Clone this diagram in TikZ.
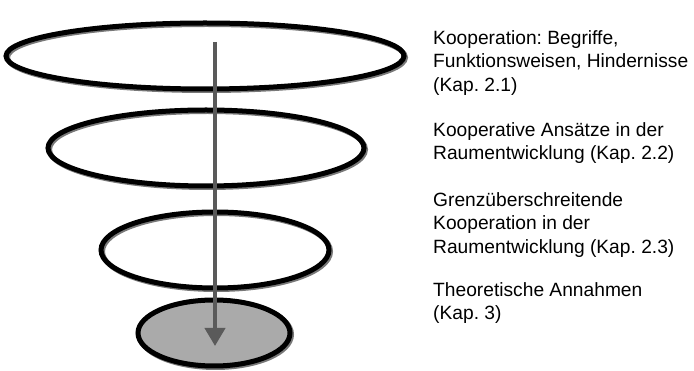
\documentclass[tikz,border=0pt]{standalone}
\usepackage{fontspec}
\setmainfont{Liberation Sans}
\usetikzlibrary{shapes.geometric,arrows.meta}
\definecolor{ringshadow}{RGB}{120,120,120}
\definecolor{arrowgray}{RGB}{90,90,90}
\definecolor{discfill}{RGB}{170,170,170}
\frenchspacing
\tikzset{
  ring/.style={ellipse, draw=black, line width=5pt, inner sep=0pt},
  ringshade/.style={ellipse, draw=ringshadow, line width=5pt, inner sep=0pt},
  label/.style={anchor=north west, align=left, inner sep=0pt,
    font=\fontsize{19.2}{23.5}\selectfont},
  flow/.style={draw=arrowgray, line width=4pt, -{Triangle[length=18pt,width=20pt]}}
}
\begin{document}
\begin{tikzpicture}[x=1pt,y=-1pt]
\useasboundingbox (0,0) rectangle (694,371);
% shadows
\node[ringshade, minimum width=398pt, minimum height=66pt] at (206.5,57.5) {};
\node[ringshade, minimum width=316pt, minimum height=76pt] at (207.5,149.5) {};
\node[ringshade, minimum width=228pt, minimum height=76pt] at (216.5,251.5) {};
\node[ringshade, minimum width=152pt, minimum height=66pt] at (215.5,334.5) {};
% rings
\node[ring, minimum width=398pt, minimum height=66pt] (r1) at (205,56) {};
\node[ring, minimum width=316pt, minimum height=76pt] (r2) at (206,148) {};
\node[ring, minimum width=228pt, minimum height=76pt] (r3) at (215,250) {};
\node[ring, fill=discfill, minimum width=152pt, minimum height=66pt] (r4) at (214,333) {};
% arrow
\coordinate (top) at (215,42);
\coordinate (tip) at (215,346);
\draw[flow] (top) -- (tip);
% labels
\node[label] (t1) at (433,30) {Kooperation: Begriffe,\\Funktionsweisen, Hindernisse\\(Kap. 2.1)};
\node[label] (t2) at (433,122) {Kooperative Ansätze in der\\Raumentwicklung (Kap. 2.2)};
\node[label] (t3) at (433,192) {Grenzüberschreitende\\Kooperation in der\\Raumentwicklung (Kap. 2.3)};
\node[label] (t4) at (433,282) {Theoretische Annahmen\\(Kap. 3)};
\end{tikzpicture}
\end{document}
